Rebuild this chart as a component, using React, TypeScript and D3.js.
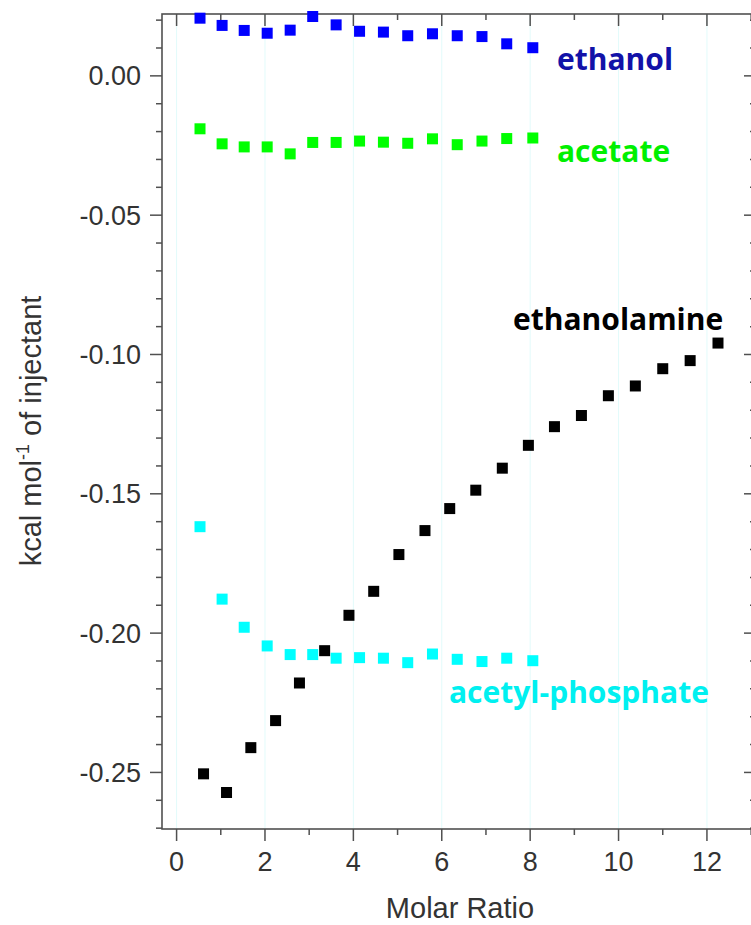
import * as d3 from "d3";

const W = 751;
const H = 925;

// frame edges (px)
const LEFT = 162;
const RIGHT = 756;
const TOP = 14;
const BOTTOM = 829;

// molar ratio for the 15-point titrations
const ratioShort = [0.53, 1.03, 1.53, 2.05, 2.57, 3.08, 3.61, 4.14, 4.68, 5.23, 5.79, 6.35, 6.91, 7.47, 8.06];
// molar ratio for ethanolamine (21 injections)
const ratioLong = [
  0.61, 1.13, 1.68, 2.24, 2.78, 3.35, 3.9, 4.46, 5.03, 5.62, 6.18, 6.77, 7.37, 7.96, 8.55, 9.16, 9.77,
  10.38, 11.0, 11.62, 12.25,
];

const ethanol = [0.0207, 0.0181, 0.0163, 0.0153, 0.0164, 0.0213, 0.0183, 0.016, 0.0157, 0.0144, 0.0151, 0.0144, 0.0141, 0.0115, 0.0101];
const acetate = [-0.019, -0.0244, -0.0255, -0.0255, -0.028, -0.0239, -0.0239, -0.0234, -0.0238, -0.0242, -0.0226, -0.0247, -0.0234, -0.0225, -0.0223];
const acetylPhosphate = [-0.1618, -0.1878, -0.1979, -0.2046, -0.2077, -0.2077, -0.209, -0.2088, -0.209, -0.2106, -0.2075, -0.2094, -0.2102, -0.209, -0.2099];
const ethanolamine = [
  -0.2505, -0.2572, -0.2411, -0.2314, -0.2179, -0.2063, -0.1936, -0.185, -0.1718, -0.1632, -0.1553, -0.1487,
  -0.1408, -0.1326, -0.1259, -0.1219, -0.1148, -0.1113, -0.1051, -0.1022, -0.0959,
];

const xTickLabels = ["0", "2", "4", "6", "8", "10", "12"];
const yTickLabels = ["0.00", "-0.05", "-0.10", "-0.15", "-0.20", "-0.25"];

const series = [
  { name: "ethanol", xs: ratioShort, ys: ethanol, color: "#0000ff", textColor: "#1212a8", lx: 557, ly: 70 },
  { name: "acetate", xs: ratioShort, ys: acetate, color: "#00ff00", textColor: "#00f000", lx: 557, ly: 162 },
  { name: "ethanolamine", xs: ratioLong, ys: ethanolamine, color: "#000000", textColor: "#000000", lx: 513, ly: 330 },
  { name: "acetyl-phosphate", xs: ratioShort, ys: acetylPhosphate, color: "#00ffff", textColor: "#00f0f0", lx: 449, ly: 703 },
];

const AXIS = "#505050";
const TEXT = "#333333";
const SANS = "'Liberation Sans', Arial, sans-serif";
const LABEL_FONT = "'Open Sans', sans-serif";

export default function App() {
  const x = d3.scaleLinear().domain([-0.33, 13.11]).range([LEFT, RIGHT]);
  const y = d3.scaleLinear().domain([-0.2703, 0.0222]).range([BOTTOM, TOP]);

  const xMajor = xTickLabels.map(Number);
  const xMinor = d3.range(1, 14, 2);
  const yMajor = yTickLabels.map(Number);
  const yAll = d3.range(-27, 3).map((i) => i / 100);

  const size = 11;

  return (
    <svg
      width={W}
      height={H}
      style={{ position: "absolute", left: 0, top: 0, background: "#fff" }}
    >
      {/* faint vertical grid */}
      {xMajor.map((v) => (
        <line key={"g" + v} x1={x(v)} x2={x(v)} y1={TOP} y2={BOTTOM} stroke="#e2fbfb" strokeWidth={1} />
      ))}

      {/* frame */}
      <rect x={LEFT} y={TOP} width={RIGHT - LEFT} height={BOTTOM - TOP} fill="none" stroke={AXIS} strokeWidth={1.6} />

      {/* bottom (outward) and top (inward) ticks */}
      {xMajor.map((v) => (
        <g key={"xt" + v}>
          <line x1={x(v)} x2={x(v)} y1={BOTTOM} y2={BOTTOM + 12} stroke={AXIS} strokeWidth={1.5} />
          <line x1={x(v)} x2={x(v)} y1={TOP} y2={TOP + 12} stroke={AXIS} strokeWidth={1.5} />
        </g>
      ))}
      {xMinor.map((v) => (
        <g key={"xm" + v}>
          <line x1={x(v)} x2={x(v)} y1={BOTTOM} y2={BOTTOM + 6} stroke={AXIS} strokeWidth={1.5} />
          <line x1={x(v)} x2={x(v)} y1={TOP} y2={TOP + 6} stroke={AXIS} strokeWidth={1.5} />
        </g>
      ))}

      {/* left (outward) and right (inward) ticks */}
      {yAll.map((v) => {
        const major = Math.abs(Math.round(v * 100)) % 5 === 0;
        const len = major ? 12 : 6;
        return (
          <g key={"yt" + v}>
            <line x1={LEFT - len} x2={LEFT} y1={y(v)} y2={y(v)} stroke={AXIS} strokeWidth={1.5} />
            <line x1={RIGHT - len} x2={RIGHT} y1={y(v)} y2={y(v)} stroke={AXIS} strokeWidth={1.5} />
          </g>
        );
      })}

      {/* tick labels */}
      {xMajor.map((v, i) => (
        <text key={"xl" + v} x={x(v)} y={871} textAnchor="middle" fontFamily={SANS} fontSize={27} fill={TEXT}>
          {xTickLabels[i]}
        </text>
      ))}
      {yMajor.map((v, i) => (
        <text key={"yl" + v} x={LEFT - 21} y={y(v) + 9.5} textAnchor="end" fontFamily={SANS} fontSize={27} fill={TEXT}>
          {yTickLabels[i]}
        </text>
      ))}

      {/* axis titles */}
      <text x={460} y={918} textAnchor="middle" fontFamily={SANS} fontSize={29} fill={TEXT}>
        Molar Ratio
      </text>
      <text
        transform="translate(41,431) rotate(-90)"
        textAnchor="middle"
        fontFamily={SANS}
        fontSize={29}
        fill={TEXT}
      >
        kcal mol
        <tspan fontSize={18} dy={-12}>-1</tspan>
        <tspan dy={12}> of injectant</tspan>
      </text>

      {/* data */}
      {series.map((s) => (
        <g key={s.name}>
          {s.xs.map((xv, i) => (
            <rect
              key={i}
              x={x(xv) - size / 2}
              y={y(s.ys[i]) - size / 2}
              width={size}
              height={size}
              fill={s.color}
            />
          ))}
          <text x={s.lx} y={s.ly} fontFamily={LABEL_FONT} fontWeight={700} fontSize={30} fill={s.textColor}>
            {s.name}
          </text>
        </g>
      ))}
    </svg>
  );
}
